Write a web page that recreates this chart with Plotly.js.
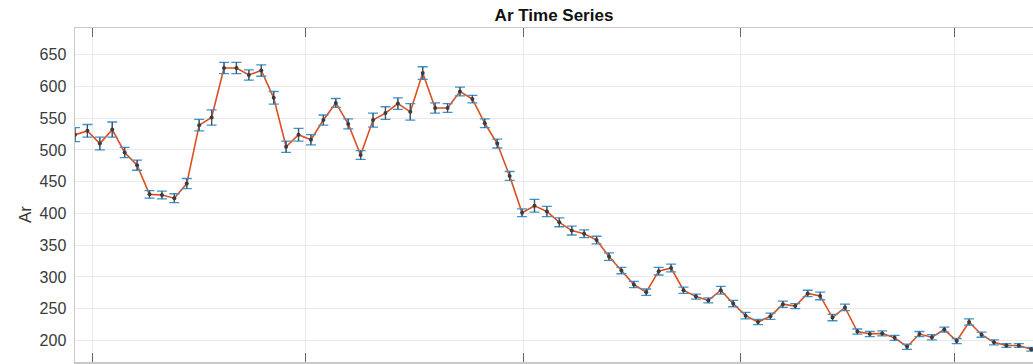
<!DOCTYPE html>
<html>
<head>
<meta charset="utf-8">
<script src="https://cdn.plot.ly/plotly-3.0.1.min.js"></script>
<style>
  html, body { margin: 0; padding: 0; background: #fff; }
  #chart { width: 1033px; height: 364px; }
</style>
</head>
<body>
<div id="chart"></div>
<script>
// Weekly Ar readings with their uncertainties
const firstSample = '2018-12-22';
const arValues = [
  524, 530, 510, 532, 496, 476, 430, 429, 424, 447,
  539, 551, 629, 629, 618, 625, 582, 505, 524, 516,
  547, 574, 541, 492, 547, 558, 573, 560, 621, 566,
  566, 592, 580, 542, 510, 459, 401, 412, 403, 386,
  373, 368, 358, 332, 310, 288, 276, 309, 314, 279,
  269, 263, 279, 258, 239, 229, 238, 257, 254, 274,
  270, 236, 252, 214, 210, 211, 204, 190, 210, 205,
  217, 199, 229, 209, 197, 192, 192, 186
];
const arErrors = [
  11, 10, 10, 12, 8, 8, 6, 6, 7, 8,
  9, 12, 9, 9, 8, 9, 10, 9, 10, 8,
  8, 7, 8, 7, 11, 10, 9, 13, 10, 8,
  7, 7, 6, 7, 7, 7, 6, 10, 8, 7,
  7, 6, 6, 6, 5, 5, 5, 6, 6, 5,
  4, 4, 6, 5, 5, 4, 5, 5, 4, 5,
  6, 5, 5, 4, 4, 4, 4, 4, 4, 4,
  4, 4, 5, 4, 4, 3, 3, 3
];
const yTicks = [200, 250, 300, 350, 400, 450, 500, 550, 600, 650];

// one sample per week, starting at firstSample
const DAY = 86400000;
const t0 = new Date(firstSample + 'T00:00:00Z').getTime();
const sampleDates = arValues.map((_, i) =>
  new Date(t0 + i * 7 * DAY).toISOString().slice(0, 10));
const lastDate = new Date(t0 + (arValues.length - 1) * 7 * DAY + DAY)
  .toISOString().slice(0, 10);

const lineTrace = {
  x: sampleDates, y: arValues, type: 'scatter', mode: 'lines',
  line: { color: '#DC4F1E', width: 1.6 }, hoverinfo: 'skip', showlegend: false
};
// blue error bars with caps
const capTrace = {
  x: sampleDates, y: arValues, type: 'scatter', mode: 'markers',
  marker: { color: 'rgba(0,0,0,0)', size: 1 },
  error_y: { type: 'data', array: arErrors, visible: true,
             color: '#3f93cc', thickness: 1.3, width: 5 },
  showlegend: false
};
// darker stems and sample markers on top
const stemTrace = {
  x: sampleDates, y: arValues, type: 'scatter', mode: 'markers',
  marker: { color: '#3c3c3c', size: 4 },
  error_y: { type: 'data', array: arErrors, visible: true,
             color: '#4a4f57', thickness: 1.2, width: 0 },
  showlegend: false
};

const font = 'Liberation Sans, Arial, Helvetica, sans-serif';
const layout = {
  width: 1033, height: 364,
  margin: { l: 75, r: 0, t: 28, b: 2, pad: 0 },
  paper_bgcolor: '#ffffff', plot_bgcolor: '#ffffff',
  font: { family: font, color: '#333333' },
  title: {
    text: '<b>Ar Time Series</b>',
    font: { family: font, size: 17, color: '#111111' },
    xref: 'paper', x: 0.5, xanchor: 'center',
    yref: 'container', y: 1 - 15 / 364, yanchor: 'middle'
  },
  xaxis: {
    type: 'date', range: [firstSample, lastDate],
    tick0: '2019-01-01', dtick: 'M4',
    showticklabels: false,
    ticks: 'inside', ticklen: 9, tickcolor: '#666666', tickwidth: 1,
    showgrid: true, gridcolor: '#e9e9e9', gridwidth: 1,
    showline: true, linecolor: '#c8c8c8', linewidth: 1.5, mirror: 'ticks',
    zeroline: false, automargin: false
  },
  yaxis: {
    range: [166, 692],
    tickvals: yTicks, ticktext: yTicks.map(String),
    tickfont: { family: font, size: 16, color: '#3a3a3a' },
    ticks: '', ticklabelstandoff: 4,
    showgrid: true, gridcolor: '#e9e9e9', gridwidth: 1,
    showline: true, linecolor: '#c8c8c8', linewidth: 1.5, mirror: true,
    zeroline: false, automargin: false
  },
  annotations: [{
    text: 'Ar', textangle: -90, showarrow: false,
    xref: 'paper', yref: 'paper',
    x: (25 - 75) / 958, y: (362 - 215) / 334,
    xanchor: 'center', yanchor: 'middle',
    font: { family: font, size: 17, color: '#333333' }
  }]
};

Plotly.newPlot('chart', [lineTrace, capTrace, stemTrace], layout, { displayModeBar: false, staticPlot: true });
</script>
</body>
</html>
